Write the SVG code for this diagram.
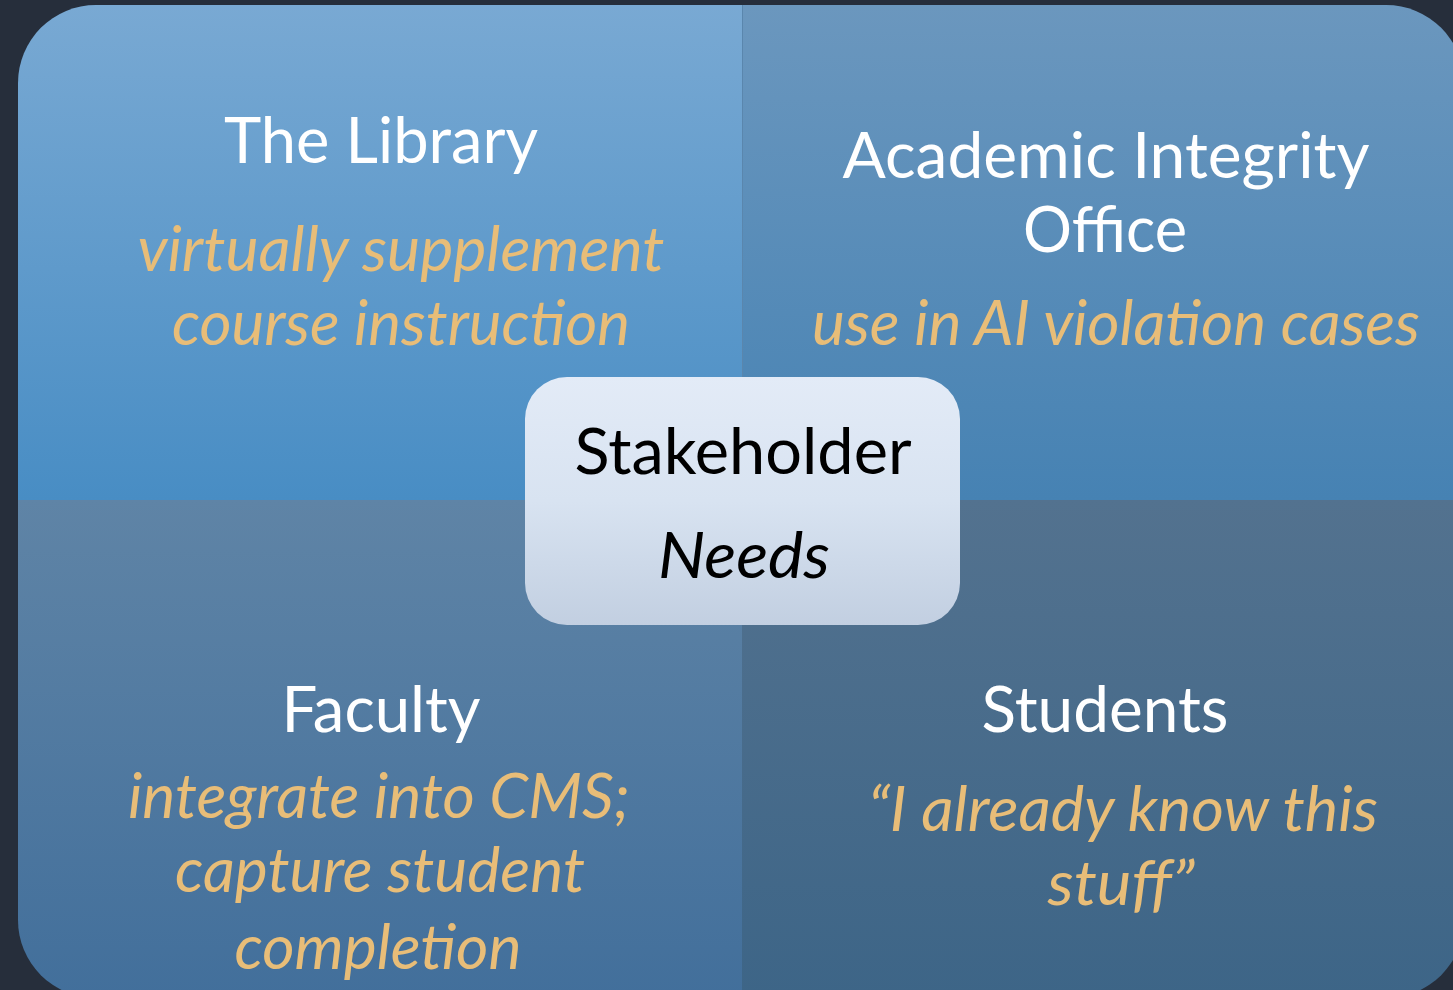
<svg xmlns="http://www.w3.org/2000/svg" width="1453" height="990" viewBox="0 0 1453 990">
  <defs>
    <linearGradient id="gTL" x1="0" y1="0" x2="0" y2="1">
      <stop offset="0" stop-color="#79a9d3"/>
      <stop offset="1" stop-color="#488dc4"/>
    </linearGradient>
    <linearGradient id="gTR" x1="0" y1="0" x2="0" y2="1">
      <stop offset="0" stop-color="#6b97be"/>
      <stop offset="1" stop-color="#4682b3"/>
    </linearGradient>
    <linearGradient id="gBL" x1="0" y1="0" x2="0" y2="1">
      <stop offset="0" stop-color="#5f84a6"/>
      <stop offset="1" stop-color="#426f9b"/>
    </linearGradient>
    <linearGradient id="gBR" x1="0" y1="0" x2="0" y2="1">
      <stop offset="0" stop-color="#53728f"/>
      <stop offset="1" stop-color="#3d6587"/>
    </linearGradient>
    <linearGradient id="gC" x1="0" y1="0" x2="0" y2="1">
      <stop offset="0" stop-color="#e3ebf7"/>
      <stop offset="0.5" stop-color="#d8e3f1"/>
      <stop offset="1" stop-color="#c2cfe1"/>
    </linearGradient>
  </defs>
  <style>
    .title { font-family: Lato, "Open Sans", sans-serif; font-size: 64px; fill: #ffffff; text-anchor: middle; }
    .need { font-family: Lato, "Open Sans", sans-serif; font-size: 62px; font-style: italic; fill: #e8bd78; text-anchor: middle; }
    .center { font-family: Lato, "Open Sans", sans-serif; font-size: 64px; fill: #000000; text-anchor: middle; }
  </style>
  <rect x="0" y="0" width="1453" height="990" fill="#262e3b"/>

  <g id="library">
    <path d="M18,500 V83 A78,78 0 0 1 96,5 H742 V500 Z" fill="url(#gTL)"/>
    <text class="title" x="381" y="163" textLength="314" lengthAdjust="spacingAndGlyphs">The Library</text>
    <text class="need" x="401" y="271" textLength="527" lengthAdjust="spacingAndGlyphs">virtually supplement</text>
    <text class="need" x="401" y="345" textLength="458" lengthAdjust="spacingAndGlyphs">course instruction</text>
  </g>

  <g id="academic-integrity">
    <path d="M742,5 H1386 A78,78 0 0 1 1464,83 V500 H742 Z" fill="url(#gTR)"/>
    <line x1="742.5" y1="5" x2="742.5" y2="500" stroke="#5a86ad" stroke-width="1"/>
    <text class="title" x="1106" y="178" textLength="527" lengthAdjust="spacingAndGlyphs">Academic Integrity</text>
    <text class="title" x="1105" y="252" textLength="164" lengthAdjust="spacingAndGlyphs">Office</text>
    <text class="need" x="1116" y="345" textLength="608" lengthAdjust="spacingAndGlyphs">use in AI violation cases</text>
  </g>

  <g id="faculty">
    <path d="M18,500 H742 V998 H96 A78,78 0 0 1 18,920 Z" fill="url(#gBL)"/>
    <text class="title" x="381" y="732" textLength="199" lengthAdjust="spacingAndGlyphs">Faculty</text>
    <text class="need" x="379" y="818" textLength="502" lengthAdjust="spacingAndGlyphs">integrate into CMS;</text>
    <text class="need" x="380" y="892" textLength="410" lengthAdjust="spacingAndGlyphs">capture student</text>
    <text class="need" x="378" y="969" textLength="287" lengthAdjust="spacingAndGlyphs">completion</text>
  </g>

  <g id="students">
    <path d="M742,500 H1464 V920 A78,78 0 0 1 1386,998 H742 Z" fill="url(#gBR)"/>
    <text class="title" x="1105" y="732" textLength="247" lengthAdjust="spacingAndGlyphs">Students</text>
    <text class="need" x="1123" y="831" textLength="510" lengthAdjust="spacingAndGlyphs">“I already know this</text>
    <text class="need" x="1121" y="905" textLength="147" lengthAdjust="spacingAndGlyphs">stuff”</text>
  </g>

  <g id="stakeholder-needs">
    <rect x="525" y="377" width="435" height="248" rx="42" ry="42" fill="url(#gC)"/>
    <text class="center" x="743" y="474" textLength="337" lengthAdjust="spacingAndGlyphs">Stakeholder</text>
    <text class="center" x="744" y="578" font-style="italic" textLength="172" lengthAdjust="spacingAndGlyphs">Needs</text>
  </g>

  <g id="connectors"/>
</svg>
